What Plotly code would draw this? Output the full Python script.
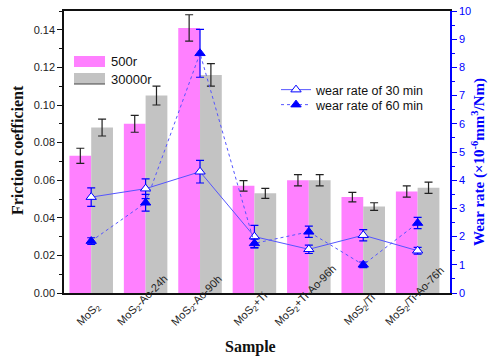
import plotly.graph_objects as go

samples = ["MoS<sub>2</sub>", "MoS<sub>2</sub>-Ao-24h", "MoS<sub>2</sub>-Ao-90h", "MoS<sub>2</sub>+Ti",
           "MoS<sub>2</sub>+Ti-Ao-96h", "MoS<sub>2</sub>/Ti", "MoS<sub>2</sub>/Ti-Ao-76h"]
fric_500 = [0.073, 0.090, 0.141, 0.057, 0.060, 0.051, 0.054]
fric_500_err = [0.004, 0.0045, 0.007, 0.0028, 0.003, 0.0025, 0.003]
fric_30000 = [0.088, 0.105, 0.116, 0.053, 0.060, 0.046, 0.056]
fric_30000_err = [0.0045, 0.005, 0.006, 0.0027, 0.003, 0.002, 0.003]
wear_30 = [3.4, 3.7, 4.3, 2.0, 1.55, 2.05, 1.5]
wear_30_err = [0.33, 0.35, 0.4, 0.4, 0.15, 0.2, 0.12]
wear_60 = [1.84, 3.2, 8.5, 1.76, 2.17, 1.0, 2.48]
wear_60_err = [0.12, 0.3, 0.85, 0.15, 0.2, 0.1, 0.2]

BLUE = "#0000ff"
PINK = "#ff80ff"
GRAY = "#c3c3c3"
SANS = "Liberation Sans, Arial, sans-serif"
SERIF = "Liberation Serif, Times New Roman, serif"

fig = go.Figure()
fig.add_trace(go.Bar(x=samples, y=fric_500, name="500r", marker=dict(color=PINK, line=dict(width=0)),
                     error_y=dict(type="data", array=fric_500_err, color="#222", thickness=1.2, width=4),
                     showlegend=False))
fig.add_trace(go.Bar(x=samples, y=fric_30000, name="30000r", marker=dict(color=GRAY, line=dict(width=0)),
                     error_y=dict(type="data", array=fric_30000_err, color="#222", thickness=1.2, width=4),
                     showlegend=False))
fig.add_trace(go.Scatter(x=samples, y=wear_30, name="wear rate of 30 min", yaxis="y2", mode="lines+markers",
                         line=dict(color="#5555ff", width=1),
                         marker=dict(symbol="triangle-up", size=9, color="white", line=dict(color=BLUE, width=1)),
                         error_y=dict(type="data", array=wear_30_err, color=BLUE, thickness=1.2, width=4),
                         legend="legend"))
fig.add_trace(go.Scatter(x=samples, y=wear_60, name="wear rate of 60 min", yaxis="y2", mode="lines+markers",
                         line=dict(color="#5555ff", width=1, dash="dot"),
                         marker=dict(symbol="triangle-up", size=9, color=BLUE, line=dict(color=BLUE, width=1)),
                         error_y=dict(type="data", array=wear_60_err, color=BLUE, thickness=1.2, width=4),
                         legend="legend2"))


def px_x(p):
    return (p - 64) / 386


def px_y(p):
    return (293 - p) / 282


leg_common = dict(xanchor="left", yanchor="top", bgcolor="rgba(0,0,0,0)",
                  font=dict(size=12.5, family=SANS, color="#111"), itemwidth=30)

fig.update_layout(
    width=500, height=360,
    margin=dict(l=64, r=50, t=11, b=67),
    paper_bgcolor="white", plot_bgcolor="white",
    barmode="group", bargap=0.2, bargroupgap=0,
    font=dict(family=SANS, size=11, color="#222"),
    xaxis=dict(showline=True, linecolor="#111", linewidth=1.5, mirror=True, ticks="", automargin=False,
               showticklabels=False, showgrid=False),
    yaxis=dict(range=[0, 0.15], dtick=0.02, tickformat=".2f", showline=True, linecolor="#111", linewidth=1.5,
               ticks="outside", ticklen=5, tickcolor="#111", showgrid=False, zeroline=False, automargin=False,
               minor=dict(dtick=0.01, ticks="outside", ticklen=3, tickcolor="#111"),
               tickfont=dict(size=11, family=SANS)),
    yaxis2=dict(range=[0, 10], dtick=1, overlaying="y", side="right", showline=True, linecolor=BLUE,
                linewidth=1.5, ticks="outside", ticklen=5, tickcolor=BLUE, showgrid=False, zeroline=False,
                automargin=False,
                minor=dict(dtick=0.5, ticks="outside", ticklen=3, tickcolor=BLUE),
                tickfont=dict(size=11, family=SANS, color=BLUE)),
    legend=dict(x=px_x(276), y=px_y(75), **leg_common),
    legend2=dict(x=px_x(276), y=px_y(90), **leg_common),
    showlegend=True,
)

# category tick labels, rotated and centred under each group
for s in samples:
    fig.add_annotation(text=s, xref="x", yref="paper", x=s, y=px_y(332), xshift=-3,
                       textangle=-45, showarrow=False, xanchor="center", yanchor="bottom",
                       font=dict(family=SANS, size=11, color="#222"))

# bar legend (swatches drawn as shapes, labels as text)
fig.add_shape(type="rect", xref="paper", yref="paper", x0=px_x(74), x1=px_x(105), y0=px_y(67), y1=px_y(56),
              fillcolor=PINK, line=dict(width=0))
fig.add_shape(type="rect", xref="paper", yref="paper", x0=px_x(74), x1=px_x(105), y0=px_y(84), y1=px_y(73),
              fillcolor=GRAY, line=dict(width=0))
fig.add_shape(type="line", xref="paper", yref="paper", x0=px_x(74), x1=px_x(105), y0=px_y(84), y1=px_y(84),
              line=dict(color="#444", width=1))
fig.add_annotation(text="500r", xref="paper", yref="paper", x=px_x(109), y=px_y(62), showarrow=False,
                   xanchor="left", yanchor="middle", font=dict(family=SANS, size=13, color="#111"))
fig.add_annotation(text="30000r", xref="paper", yref="paper", x=px_x(109), y=px_y(79), showarrow=False,
                   xanchor="left", yanchor="middle", font=dict(family=SANS, size=13, color="#111"))

fig.add_annotation(text="<b>Friction coefficient</b>", xref="paper", yref="paper", x=px_x(17), y=px_y(150),
                   textangle=-90, showarrow=False, font=dict(family=SERIF, size=16, color="#111"),
                   xanchor="center", yanchor="middle")
fig.add_annotation(text="<b>Sample</b>", xref="paper", yref="paper", x=px_x(250), y=px_y(347),
                   showarrow=False, font=dict(family=SERIF, size=16, color="#111"),
                   xanchor="center", yanchor="middle")
fig.add_annotation(text="<b>Wear rate (×10<sup>-6</sup>mm<sup>3</sup>/Nm)</b>", xref="paper", yref="paper",
                   x=px_x(479), y=px_y(162), textangle=-90, showarrow=False,
                   font=dict(family=SERIF, size=15, color=BLUE), xanchor="center", yanchor="middle")

fig.write_html("out.html", config={"displayModeBar": False},
               post_script="document.body.style.margin='0';")
